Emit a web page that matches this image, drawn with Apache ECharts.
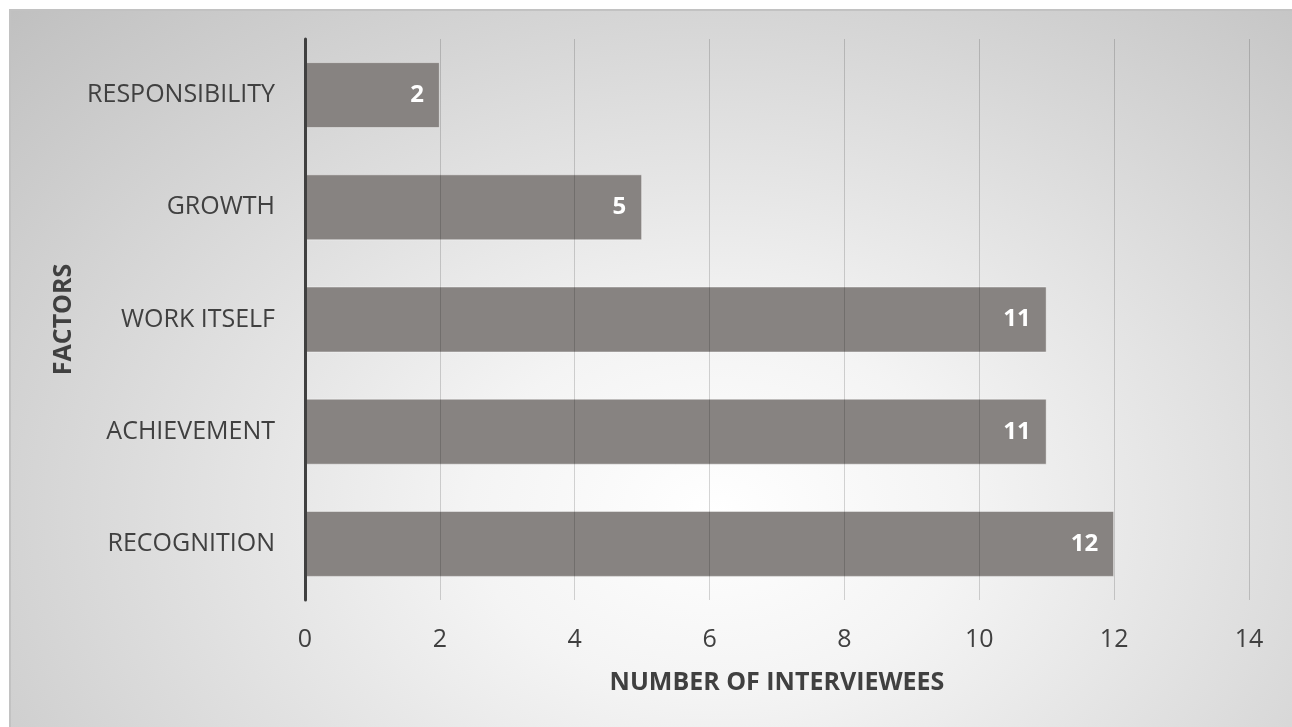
<!DOCTYPE html>
<html>
<head>
<meta charset="utf-8">
<script src="https://cdn.jsdelivr.net/npm/echarts@6/dist/echarts.min.js"></script>
<style>
  html, body { margin: 0; padding: 0; background: #fff; }
  #bg {
    position: absolute; left: 9px; top: 9px; width: 1281px; height: 716px;
    border-left: 2px solid #c2c2c2; border-top: 2px solid #c2c2c2;
    background: radial-gradient(ellipse 980px 720px at 55% 70%, #ffffff 0%, #f4f4f4 25%, #c0c0c0 100%);
  }
  #chart { position: absolute; left: 0; top: 0; width: 1292px; height: 727px; }
</style>
</head>
<body>
<div id="bg"></div>
<div id="chart"></div>
<script>
const factors = ['RECOGNITION', 'ACHIEVEMENT', 'WORK ITSELF', 'GROWTH', 'RESPONSIBILITY']
const interviewees = [12, 11, 11, 5, 2]
const xTicks = { min: 0, max: 14, interval: 2 }

const chart = echarts.init(document.getElementById('chart'))
const textColor = '#404040'
const font = '"Open Sans", sans-serif'

chart.setOption({
  backgroundColor: 'transparent',
  textStyle: { fontFamily: font },
  grid: { left: 305, right: 43, top: 39, bottom: 127, containLabel: false },
  xAxis: {
    type: 'value',
    min: xTicks.min,
    max: xTicks.max,
    interval: xTicks.interval,
    z: 3,
    name: 'NUMBER OF INTERVIEWEES',
    nameLocation: 'middle',
    nameGap: 70,
    nameTextStyle: { color: textColor, fontSize: 25, fontWeight: 'bold', fontFamily: font },
    axisLine: { show: false },
    axisTick: { show: false },
    axisLabel: { color: textColor, fontSize: 25, margin: 27, fontFamily: font },
    splitLine: { show: true, lineStyle: { color: 'rgba(0,0,0,0.16)', width: 1 } }
  },
  yAxis: {
    type: 'category',
    data: factors,
    z: 4,
    name: 'FACTORS',
    nameLocation: 'middle',
    nameRotate: 90,
    nameGap: 229,
    nameTextStyle: { color: textColor, fontSize: 25, fontWeight: 'bold', fontFamily: font },
    axisLine: { show: true, lineStyle: { color: '#404040', width: 3 } },
    axisTick: { show: false },
    axisLabel: { color: textColor, fontSize: 25, margin: 30, fontFamily: font },
    splitLine: { show: false }
  },
  series: [
    {
      type: 'bar',
      data: interviewees,
      barWidth: 66,
      itemStyle: { color: '#878381', borderColor: 'rgba(255,255,255,0.45)', borderWidth: 1 },
      label: {
        show: true,
        position: 'insideRight',
        distance: 16,
        color: '#ffffff',
        fontSize: 24,
        fontWeight: 'bold',
        fontFamily: font
      }
    }
  ]
})
</script>
</body>
</html>
